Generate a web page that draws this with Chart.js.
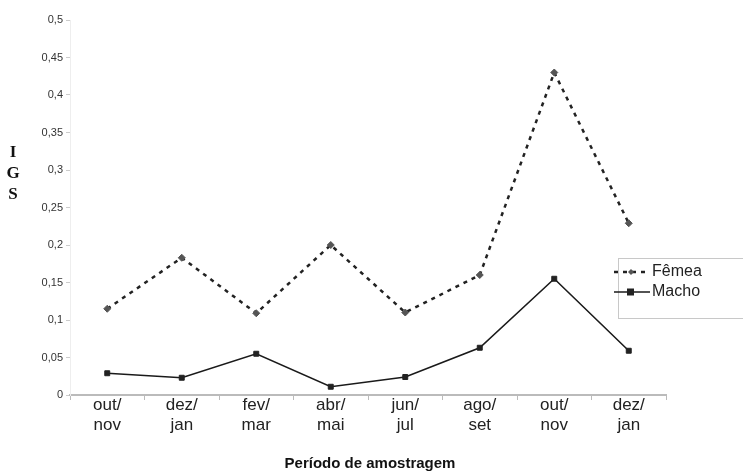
<!DOCTYPE html>
<html>
<head>
<meta charset="utf-8">
<script src="https://cdn.jsdelivr.net/npm/chart.js@4/dist/chart.umd.min.js"></script>
<style>
  html,body{margin:0;padding:0;background:#fff;}
  #wrap{width:743px;height:473px;position:relative;}
</style>
</head>
<body>
<div id="wrap"><canvas id="c" width="743" height="473"></canvas></div>
<script>
const periodos = [['out/','nov'],['dez/','jan'],['fev/','mar'],['abr/','mai'],['jun/','jul'],['ago/','set'],['out/','nov'],['dez/','jan']];
const femea = [0.115, 0.183, 0.109, 0.200, 0.110, 0.160, 0.430, 0.229];
const macho = [0.029, 0.023, 0.055, 0.011, 0.024, 0.063, 0.155, 0.059];
const yTitulo = ['I','G','S'];
const xTitulo = 'Período de amostragem';

// legenda e títulos desenhados à mão
const extras = {
  id:'extras',
  afterDraw(chart){
    const ctx = chart.ctx;
    ctx.save();
    // titulo eixo y (letras empilhadas)
    ctx.fillStyle = '#111';
    ctx.font = 'bold 17px "Liberation Serif", "DejaVu Serif", serif';
    ctx.textAlign = 'center'; ctx.textBaseline = 'middle';
    yTitulo.forEach((t,i)=>ctx.fillText(t, 13, 153 + i*21));
    // titulo eixo x
    ctx.font = 'bold 15px "Liberation Sans", Arial, sans-serif';
    ctx.fillText(xTitulo, 370, 464);
    // caixa da legenda
    ctx.strokeStyle = '#c8c8c8'; ctx.lineWidth = 1;
    ctx.strokeRect(618.5, 258.5, 140, 60);
    const ds = chart.data.datasets;
    const rows = [272, 292];
    ds.forEach((d,i)=>{
      const y = rows[i];
      ctx.strokeStyle = d.borderColor; ctx.lineWidth = d.borderWidth;
      ctx.setLineDash(d.borderDash || []);
      ctx.beginPath(); ctx.moveTo(614, y); ctx.lineTo(650, y); ctx.stroke();
      ctx.setLineDash([]);
      ctx.fillStyle = d.pointBackgroundColor;
      if(d.pointStyle==='rect'){ ctx.fillRect(627, y-3.5, 7, 7); }
      else { ctx.beginPath(); ctx.moveTo(631,y-3); ctx.lineTo(634,y); ctx.lineTo(631,y+3); ctx.lineTo(628,y); ctx.closePath(); ctx.fill(); }
      ctx.fillStyle = '#222';
      ctx.font = '16px "Liberation Sans", Arial, sans-serif';
      ctx.textAlign = 'left';
      ctx.fillText(d.label, 652, y);
    });
    ctx.restore();
  }
};

new Chart(document.getElementById('c'),{
  type:'line',
  data:{
    labels:periodos,
    datasets:[
      {label:'Fêmea',data:femea,borderColor:'#222',borderWidth:2.5,borderDash:[4,5],
       pointStyle:'rectRot',pointRadius:3.5,pointBackgroundColor:'#555',pointBorderColor:'#555',pointBorderWidth:1,tension:0},
      {label:'Macho',data:macho,borderColor:'#1a1a1a',borderWidth:1.6,
       pointStyle:'rect',pointRadius:3.5,pointBackgroundColor:'#222',pointBorderColor:'#222',pointBorderWidth:1,tension:0}
    ]
  },
  options:{
    responsive:false,
    animation:false,
    layout:{padding:{top:20,right:77,left:0,bottom:0}},
    plugins:{legend:{display:false},tooltip:{enabled:false}},
    scales:{
      x:{
        offset:true,
        grid:{display:true,drawOnChartArea:false,tickLength:5,color:'#bbb',offset:true},
        border:{color:'#bbb',width:2},
        ticks:{color:'#222',font:{family:'"Liberation Sans", Arial, sans-serif',size:17,lineHeight:1.15},padding:-4,maxRotation:0,autoSkip:false},
        afterFit(s){ s.height = 78; }
      },
      y:{
        min:0,max:0.5,
        grid:{display:true,drawOnChartArea:false,tickLength:4,color:'#ccc'},
        border:{color:'#eee',width:1},
        ticks:{stepSize:0.05,color:'#333',padding:3,
          font:{family:'"Liberation Sans", Arial, sans-serif',size:11},
          callback:v=>String(Math.round(v*100)/100).replace('.',',')},
        afterFit(s){ s.width = 70; }
      }
    }
  },
  plugins:[extras]
});
</script>
</body>
</html>
